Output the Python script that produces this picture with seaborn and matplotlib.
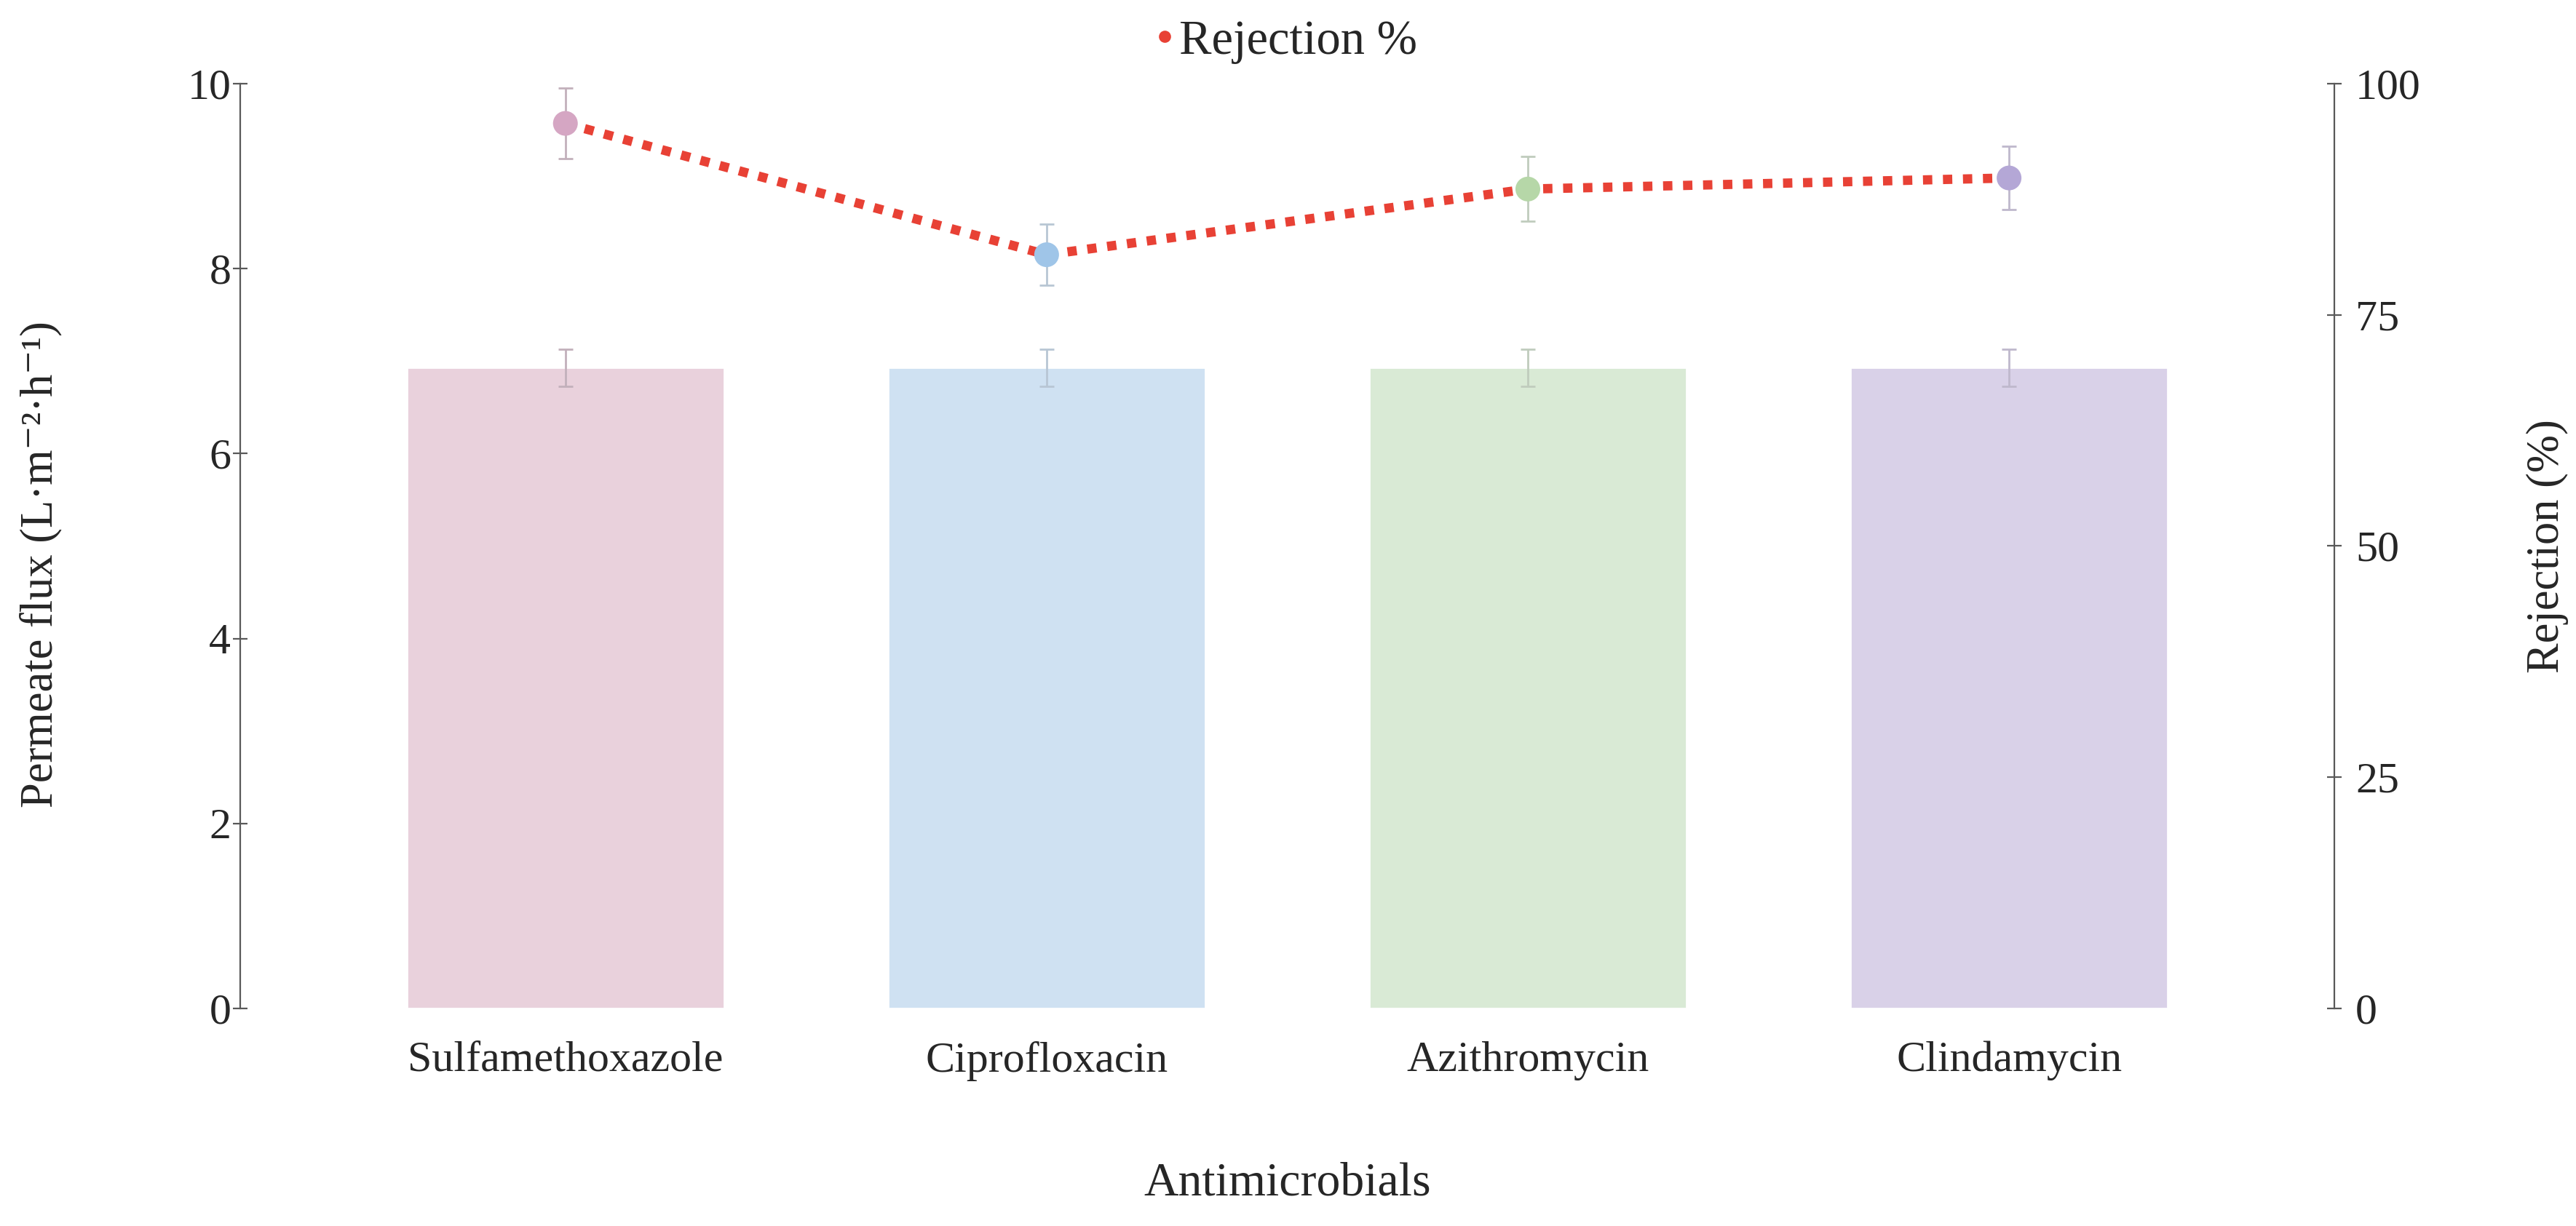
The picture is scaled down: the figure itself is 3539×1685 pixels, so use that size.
import numpy as np
import pandas as pd
import matplotlib
matplotlib.use("Agg")
import matplotlib.pyplot as plt
from matplotlib.lines import Line2D
import seaborn as sns

categories = ["Sulfamethoxazole", "Ciprofloxacin", "Azithromycin", "Clindamycin"]
flux = [6.93, 6.93, 6.93, 6.93]
flux_err = [0.2, 0.2, 0.2, 0.2]
rejection = [95.7, 81.5, 88.6, 89.8]
rejection_err = [3.8, 3.3, 3.5, 3.4]

bar_colors = ["#e9d1dc", "#cfe1f2", "#d9ead5", "#d9d1e8"]
marker_colors = ["#d5a6c3", "#9fc5e8", "#b6d7a8", "#b4a7d6"]
err_colors = ["#c2b0bb", "#b8c6d4", "#c0ccbd", "#bfb8cc"]
line_color = "#e84135"

sns.set_theme(style="white")
plt.rcParams['font.family'] = ['Liberation Serif', 'DejaVu Serif']

fig = plt.figure(figsize=(17.695, 8.425), dpi=200)
ax = fig.add_axes([0.0932, 0.1774, 0.8130, 0.7544])

df = pd.DataFrame({"cat": categories, "flux": flux})
sns.barplot(data=df, x="cat", y="flux", hue="cat", palette=bar_colors,
            width=0.66, legend=False, ax=ax, saturation=1)
xpos = np.arange(len(categories))
for i in range(len(categories)):
    ax.errorbar(xpos[i], flux[i], yerr=flux_err[i], fmt="none",
                ecolor=err_colors[i], elinewidth=1.0, capsize=3.6, capthick=1.0, zorder=3)

ax.set_xlim(-0.676, 3.676)
ax.set_ylim(0, 10)
ax.set_yticks([0, 2, 4, 6, 8, 10])
ax.set_xlabel("Antimicrobials", fontsize=23.7)
ax.set_ylabel("Permeate flux (L·m⁻²·h⁻¹)", fontsize=22.5)
ax.xaxis.set_label_coords(0.5, -0.166)
ax.yaxis.set_label_coords(-0.0848, 0.48)
ax.tick_params(axis="x", length=0, pad=16, labelsize=21.6)
ax.tick_params(axis="y", direction="inout", length=7, width=0.8, color="#595959",
               pad=1, labelsize=21.6, left=True)
for s in ["top", "right", "bottom"]:
    ax.spines[s].set_visible(False)
ax.spines["left"].set_color("#595959")
ax.spines["left"].set_linewidth(0.8)

ax2 = ax.twinx()
ax2.plot(xpos, rejection, color=line_color, lw=4.6,
         linestyle=(0, (1, 1.15)), dash_capstyle="butt", zorder=2)
for i in range(len(categories)):
    ax2.errorbar(xpos[i], rejection[i], yerr=rejection_err[i], fmt="none",
                 ecolor=err_colors[i], elinewidth=1.0, capsize=3.6, capthick=1.0, zorder=3)
sns.scatterplot(x=xpos, y=rejection, hue=categories, palette=marker_colors,
                s=150, edgecolor="none", legend=False, ax=ax2, zorder=4)
ax2.set_ylim(0, 100)
ax2.set_yticks([0, 25, 50, 75, 100])
ax2.set_ylabel("Rejection (%)", fontsize=22.5)
ax2.yaxis.set_label_coords(1.0918, 0.5)
ax2.tick_params(axis="y", direction="inout", length=7, width=0.8, color="#595959",
                pad=7, labelsize=21.6, right=True)
for s in ["top", "left", "bottom"]:
    ax2.spines[s].set_visible(False)
ax2.spines["right"].set_color("#595959")
ax2.spines["right"].set_linewidth(0.8)
ax2.grid(False)
ax.grid(False)
ax2.set_xlim(-0.676, 3.676)

handle = Line2D([], [], marker="o", color=line_color, linestyle="none", markersize=5)
fig.legend(handles=[handle], labels=["Rejection %"], loc="center",
           bbox_to_anchor=(0.4965, 0.966), frameon=False, fontsize=24,
           handletextpad=-0.2, handlelength=1.0)

fig.savefig("out.png", dpi=200)
